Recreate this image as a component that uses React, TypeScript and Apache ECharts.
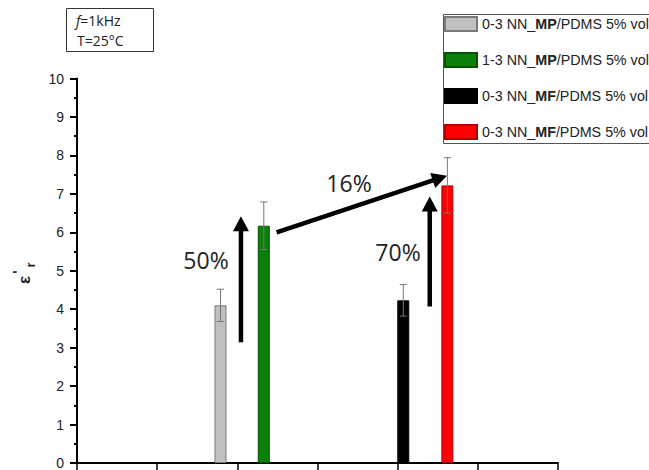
import React, { useEffect, useRef } from "react";
import * as echarts from "echarts";

// ---- data ----
const legendPrefix = ["0-3 NN_", "1-3 NN_", "0-3 NN_", "0-3 NN_"];
const legendBold = ["MP", "MP", "MF", "MF"];
const legendSuffix = "/PDMS 5% vol.";
const xPositions = [1.79, 2.33, 4.07, 4.62];
const values = [4.1, 6.17, 4.23, 7.22];
const errors = [0.42, 0.62, 0.41, 0.72];
const barColors = ["#c0c0c0", "#0a800a", "#000000", "#ff0000"];
const barBorders = ["#7a7a7a", "#055205", "#000000", "#b00000"];
// arrows: [x1, y1, x2, y2] in data coordinates
const arrows = [
  [2.045, 3.14, 2.045, 6.42],
  [2.49, 6.0, 4.615, 7.47],
  [4.4, 4.07, 4.4, 6.93],
];
const yTicks = { min: 0, max: 10, interval: 1 };
const xTicks = { min: 0, max: 6, interval: 1 };

const seriesNames = legendPrefix.map((p, i) => `${p}${legendBold[i]}${legendSuffix}#${i}`);

export default function App() {
  const ref = useRef<HTMLDivElement>(null);
  useEffect(() => {
    if (!ref.current) return;
    const chart = echarts.init(ref.current, undefined, { renderer: "svg" });

    const barSeries = seriesNames.map((name, i) => ({
      type: "bar",
      name,
      data: [[xPositions[i], values[i]]],
      barWidth: 12,
      barGap: "-100%",
      itemStyle: { color: barColors[i], borderColor: barBorders[i], borderWidth: 1 },
      z: 2,
    }));

    const errData = xPositions.map((x, i) => [x, values[i], errors[i]]);
    const lf = "Liberation Sans, Arial";
    const fs = 14.3;

    const option: any = {
      animation: false,
      grid: { left: 77, right: 91, top: 78.5, bottom: 4, containLabel: false },
      xAxis: {
        type: "value", min: xTicks.min, max: xTicks.max, interval: xTicks.interval,
        axisLine: { show: true, onZero: false, lineStyle: { color: "#000", width: 2 } },
        axisTick: { show: true, length: 8, lineStyle: { color: "#000", width: 1.5 } },
        axisLabel: { show: false }, splitLine: { show: false },
      },
      yAxis: {
        type: "value", min: yTicks.min, max: yTicks.max, interval: yTicks.interval,
        axisLine: { show: true, lineStyle: { color: "#000", width: 2 } },
        axisTick: { show: true, length: 7, lineStyle: { color: "#000", width: 2 } },
        minorTick: { show: true, splitNumber: 2, length: 3, lineStyle: { color: "#000", width: 2 } },
        axisLabel: { margin: 13, fontSize: 14, fontFamily: lf, color: "#222" },
        splitLine: { show: false },
      },
      legend: {
        orient: "vertical", left: 444, top: 16, padding: 0, itemGap: 20, itemWidth: 32, itemHeight: 14,
        icon: "rect", data: seriesNames,
        formatter: (name: string) => {
          const i = seriesNames.indexOf(name);
          return `{n|${legendPrefix[i]}}{b|${legendBold[i]}}{n|${legendSuffix}}`;
        },
        textStyle: {
          fontSize: fs, fontFamily: lf, color: "#222",
          rich: {
            n: { fontSize: fs, fontFamily: lf, color: "#222" },
            b: { fontSize: fs, fontFamily: lf, color: "#222", fontWeight: "bold" },
          },
        },
      },
      series: [
        ...barSeries,
        {
          type: "custom", name: "errors", data: errData, encode: { x: 0, y: 1 }, z: 5,
          renderItem: (params: any, api: any) => {
            const x = api.value(0), y = api.value(1), e = api.value(2);
            const top = api.coord([x, y + e]);
            const bot = api.coord([x, y - e]);
            const hw = 3.5;
            const st = { stroke: "#777", lineWidth: 1 };
            return {
              type: "group",
              children: [
                { type: "line", shape: { x1: top[0], y1: top[1], x2: bot[0], y2: bot[1] }, style: st },
                { type: "line", shape: { x1: top[0] - hw, y1: top[1], x2: top[0] + hw, y2: top[1] }, style: st },
                { type: "line", shape: { x1: bot[0] - hw, y1: bot[1], x2: bot[0] + hw, y2: bot[1] }, style: st },
              ],
            };
          },
        },
        {
          type: "custom", name: "arrows", data: arrows, encode: { x: [0, 2], y: [1, 3] }, z: 6,
          renderItem: (params: any, api: any) => {
            const p1 = api.coord([api.value(0), api.value(1)]);
            const p2 = api.coord([api.value(2), api.value(3)]);
            const dx = p2[0] - p1[0], dy = p2[1] - p1[1];
            const len = Math.sqrt(dx * dx + dy * dy);
            const ux = dx / len, uy = dy / len;
            const px = -uy, py = ux;
            const hl = 15, hw = 8;
            const bx = p2[0] - ux * hl, by = p2[1] - uy * hl;
            return {
              type: "group",
              children: [
                { type: "line", shape: { x1: p1[0], y1: p1[1], x2: bx + ux, y2: by + uy }, style: { stroke: "#000", lineWidth: 4.5 } },
                { type: "polygon", shape: { points: [[p2[0], p2[1]], [bx + px * hw, by + py * hw], [bx - px * hw, by - py * hw]] }, style: { fill: "#000" } },
              ],
            };
          },
        },
      ],
      graphic: [
        { type: "rect", shape: { x: 66.5, y: 8.5, width: 87, height: 43 }, style: { fill: "#fff", stroke: "#333", lineWidth: 1 }, z: 10 },
        {
          type: "text", x: 76, y: 20,
          style: {
            text: "{i|f}=1kHz", font: '14px "Open Sans"', fill: "#222", verticalAlign: "middle",
            rich: { i: { fontStyle: "italic", fontFamily: "Open Sans", fontSize: 14, fill: "#222" } },
          },
          z: 11,
        },
        { type: "text", x: 77, y: 40, style: { text: "T=25°C", font: '14px "Open Sans"', fill: "#222", verticalAlign: "middle" }, z: 11 },
        { type: "rect", shape: { x: 443.5, y: 14.5, width: 400, height: 129 }, style: { fill: "none", stroke: "#555", lineWidth: 1 }, z: 10 },
        {
          type: "text", x: 24.5, y: 280, rotation: Math.PI / 2,
          style: { text: "ε", font: 'bold 17px "Liberation Sans"', fill: "#222", align: "center", verticalAlign: "middle" },
        },
        {
          type: "text", x: 17.5, y: 272, rotation: Math.PI / 2,
          style: { text: "'", font: 'bold 14px "Liberation Sans"', fill: "#222", align: "center", verticalAlign: "middle" },
        },
        {
          type: "text", x: 30, y: 265, rotation: Math.PI / 2,
          style: { text: "r", font: 'bold 13px "Liberation Sans"', fill: "#222", align: "center", verticalAlign: "middle" },
        },
        { type: "text", x: 206, y: 260, style: { text: "50%", font: '23px "Open Sans"', fill: "#222", align: "center", verticalAlign: "middle" } },
        { type: "text", x: 349, y: 183, style: { text: "16%", font: '23px "Open Sans"', fill: "#222", align: "center", verticalAlign: "middle" } },
        { type: "text", x: 398, y: 252, style: { text: "70%", font: '23px "Open Sans"', fill: "#222", align: "center", verticalAlign: "middle" } },
      ],
    };
    chart.setOption(option);
    return () => chart.dispose();
  }, []);
  return <div ref={ref} style={{ position: "fixed", left: 0, top: 0, width: 649, height: 470, background: "#fff" }} />;
}
